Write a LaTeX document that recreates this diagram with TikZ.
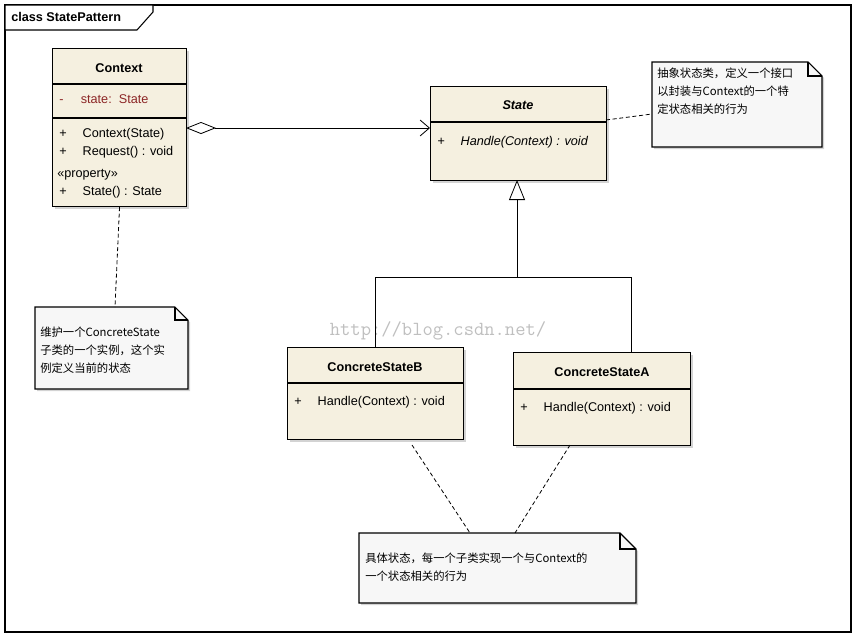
\documentclass[tikz,border=0pt]{standalone}
\usepackage{fontspec}
\setmainfont{Liberation Sans}
\newfontfamily\cjk{Noto Sans CJK SC}
\usetikzlibrary{positioning,arrows.meta,shadows}
\definecolor{classfill}{rgb}{0.96, 0.94, 0.88}
\definecolor{notefill}{rgb}{0.97, 0.97, 0.97}
\definecolor{attrred}{rgb}{0.55, 0.15, 0.15}
\tikzset {
        classbox/.style={rectangle, draw, thick, fill=classfill, anchor=north west, inner sep=0pt, drop shadow={opacity=0.35,shadow xshift=1.5pt,shadow yshift=-1.5pt}},
        notebox/.style={draw, thick, fill=notefill, drop shadow={opacity=0.35,shadow xshift=1.5pt,shadow yshift=-1.5pt}},
        member/.style={anchor=west, inner sep=0pt, font=\fontsize{9.5}{10}\selectfont},
        notetext/.style={anchor=north west, align=left, inner sep=0pt, font=\cjk\fontsize{8.5}{13.5}\selectfont},
        dotlink/.style={densely dashed, semithick},
        default/.style={}
}
\begin{document}
\begin{tikzpicture}[x=0.75pt, y=-0.75pt]
            \useasboundingbox (0,0) rectangle (855,636);
            % frame
            \draw[thick] (5,5) rectangle (851,632);
            \draw[thick, fill=white] (5,5) -- (153,5) -- (153,12) -- (137,30) -- (5,30) -- cycle;
            \node[member, font=\bfseries\fontsize{9.5}{10}\selectfont] (FrameTitle) at (11,17) {class StatePattern};

            % Context
            \node[classbox, minimum width=100.5pt, minimum height=118.5pt] (Context) at (52,48) {};
            \draw[thick] (52,84) -- (186,84) (52,118) -- (186,118);
            \node[font=\bfseries\fontsize{9.5}{10}\selectfont] (ContextName) at (119,68) {Context};
            \node[member, text=attrred] (ContextAttr) at (59,99) {-\hspace{13pt}state:\ \ State};
            \node[member] (ContextOp1) at (59,134) {+\hspace{12pt}Context(State)};
            \node[member] (ContextOp2) at (59,152) {+\hspace{12pt}Request() : void};
            \node[member] (ContextProp) at (57,175) {«property»};
            \node[member] (ContextOp3) at (59,192) {+\hspace{12pt}State() : State};

            % State
            \node[classbox, minimum width=132pt, minimum height=70.5pt] (State) at (430,86) {};
            \draw[thick] (430,122) -- (606,122);
            \node[font=\bfseries\itshape\fontsize{9.5}{10}\selectfont] (StateName) at (518,105) {State};
            \node[member, font=\itshape\fontsize{9.5}{10}\selectfont] (StateOp) at (437,142) {+\hspace{12pt}Handle(Context) : void};

            % ConcreteStateB
            \node[classbox, minimum width=132pt, minimum height=69pt] (StateB) at (287,347) {};
            \draw[thick] (287,383) -- (463,383);
            \node[font=\bfseries\fontsize{9.5}{10}\selectfont] (StateBName) at (375,367) {ConcreteStateB};
            \node[member] (StateBOp) at (294,402) {+\hspace{12pt}Handle(Context) : void};

            % ConcreteStateA
            \node[classbox, minimum width=132.75pt, minimum height=69.75pt] (StateA) at (513,352) {};
            \draw[thick] (513,389) -- (690,389);
            \node[font=\bfseries\fontsize{9.5}{10}\selectfont] (StateAName) at (602,372) {ConcreteStateA};
            \node[member] (StateAOp) at (520,408) {+\hspace{12pt}Handle(Context) : void};

            % notes
            \draw[notebox] (652,62) -- (808,62) -- (822,76) -- (822,147) -- (652,147) -- cycle;
            \draw[thick] (808,62) -- (808,76) -- (822,76);
            \node[notetext] (NoteState) at (657,68) {抽象状态类，定义一个接口\\以封装与Context的一个特\\定状态相关的行为};
            \draw[notebox] (35,307) -- (175,307) -- (188,320) -- (188,389) -- (35,389) -- cycle;
            \draw[thick] (175,307) -- (175,320) -- (188,320);
            \node[notetext] (NoteContext) at (40,327) {维护一个ConcreteState\\子类的一个实例，这个实\\例定义当前的状态};
            \draw[notebox] (359,533) -- (620,533) -- (636,549) -- (636,603) -- (359,603) -- cycle;
            \draw[thick] (620,533) -- (620,549) -- (636,549);
            \node[notetext] (NoteConcrete) at (365,553) {具体状态，每一个子类实现一个与Context的\\一个状态相关的行为};

            % watermark
            \node[text=black!25, font=\ttfamily\fontsize{15}{16}\selectfont] (Watermark) at (438,331) {http://blog.csdn.net/};

            % connectors
            \coordinate (AggStart) at (186,128);
            \coordinate (AggEnd) at (430,128);
            \draw[semithick, {Diamond[open,fill=white,length=22.5pt,width=9pt]}-{Straight Barb[length=7pt,width=12pt]}] (AggStart) -- (AggEnd);
            \coordinate (GenTop) at (517,180);
            \coordinate (GenJoin) at (517,277);
            \coordinate (JoinB) at (375,277);
            \coordinate (JoinA) at (631,277);
            \coordinate (TopB) at (375,347);
            \coordinate (TopA) at (631,352);
            \draw[semithick, -{Triangle[open,fill=white,length=15pt,width=12pt]}] (GenJoin) -- (GenTop);
            \draw[semithick] (TopB) -- (JoinB) -- (JoinA) -- (TopA);
            \draw[dotlink] (Context.south) -- (115,307);
            \draw[dotlink] (606,120) -- (652,114);
            \draw[dotlink] (412,445) -- (470,533);
            \draw[dotlink] (570,445) -- (515,533);
        \end{tikzpicture}
\end{document}
